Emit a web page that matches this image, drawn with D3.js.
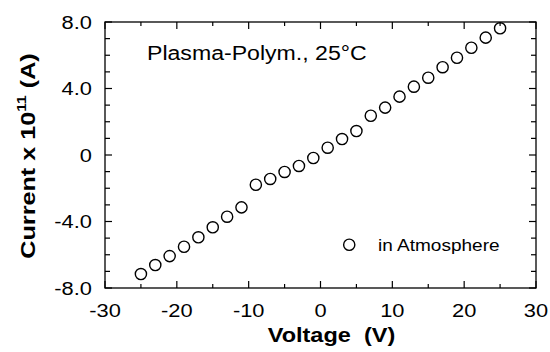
<!DOCTYPE html>
<html>
<head>
<meta charset="utf-8">
<script src="https://cdn.jsdelivr.net/npm/d3@7"></script>
<style>
  body { margin: 0; background: #fff; }
  svg { font-family: "Liberation Sans", Arial, sans-serif; }
  text { white-space: pre; }
</style>
</head>
<body>
<svg width="550" height="352"></svg>
<script>
// Voltage steps (V) and measured current (x 1e-11 A)
const voltage = [-25, -23, -21, -19, -17, -15, -13, -11, -9, -7, -5, -3, -1,
                 1, 3, 5, 7, 9, 11, 13, 15, 17, 19, 21, 23, 25];
const current = [-7.16, -6.62, -6.08, -5.52, -4.95, -4.35, -3.71, -3.15, -1.79, -1.44, -1.02, -0.66, -0.18,
                 0.44, 0.96, 1.44, 2.36, 2.85, 3.51, 4.11, 4.65, 5.28, 5.85, 6.45, 7.06, 7.62];
const xTicks = [-30, -20, -10, 0, 10, 20, 30];
const yTicks = [-8, -4, 0, 4, 8];
const yTickLabels = ["-8.0", "-4.0", "0", "4.0", "8.0"];

const data = voltage.map((v, i) => ({v: v, c: current[i]}));

const margin = {top: 22, right: 14, bottom: 64, left: 105},
      width = 550 - margin.left - margin.right,
      height = 352 - margin.top - margin.bottom;

const svg = d3.select("svg")
  .append("g")
  .attr("transform", "translate(" + margin.left + "," + margin.top + ")");

const x = d3.scaleLinear().domain([-30, 30]).range([0, width]);
const y = d3.scaleLinear().domain([-8, 8]).range([height, 0]);

// the scanned lettering is a bit wider than Arial, so stretch it horizontally
const place = (px, py, s) => "translate(" + px + "," + py + ") scale(" + s + ",1)";

// frame
svg.append("rect")
  .attr("width", width).attr("height", height)
  .attr("fill", "none").attr("stroke", "#000").attr("stroke-width", 1.3);

const minorX = d3.range(-25, 30, 10);
const minorY = d3.range(-7, 8, 1).filter(d => d % 4 !== 0);

// inward ticks on all four sides
const tg = svg.append("g").attr("stroke", "#000").attr("stroke-width", 1.2);
tg.selectAll(null).data(xTicks).join("line")
  .attr("x1", d => x(d)).attr("x2", d => x(d)).attr("y1", height).attr("y2", height - 7);
tg.selectAll(null).data(minorX).join("line")
  .attr("x1", d => x(d)).attr("x2", d => x(d)).attr("y1", height).attr("y2", height - 4);
tg.selectAll(null).data(xTicks).join("line")
  .attr("x1", d => x(d)).attr("x2", d => x(d)).attr("y1", 0).attr("y2", 7);
tg.selectAll(null).data(minorX).join("line")
  .attr("x1", d => x(d)).attr("x2", d => x(d)).attr("y1", 0).attr("y2", 4);
tg.selectAll(null).data(yTicks).join("line")
  .attr("x1", 0).attr("x2", 7).attr("y1", d => y(d)).attr("y2", d => y(d));
tg.selectAll(null).data(minorY).join("line")
  .attr("x1", 0).attr("x2", 5).attr("y1", d => y(d)).attr("y2", d => y(d));
tg.selectAll(null).data(yTicks).join("line")
  .attr("x1", width).attr("x2", width - 7).attr("y1", d => y(d)).attr("y2", d => y(d));
tg.selectAll(null).data(minorY).join("line")
  .attr("x1", width).attr("x2", width - 5).attr("y1", d => y(d)).attr("y2", d => y(d));

// tick labels
svg.selectAll(".xl").data(xTicks).join("text")
  .attr("class", "xl")
  .attr("transform", d => place(x(d), height + 29, 1.15))
  .attr("text-anchor", "middle")
  .attr("font-size", 19)
  .text(d => d);

svg.selectAll(".yl").data(yTicks).join("text")
  .attr("class", "yl")
  .attr("transform", d => place(-13, y(d), 1.15))
  .attr("dy", "0.36em")
  .attr("text-anchor", "end")
  .attr("font-size", 19)
  .text((d, i) => yTickLabels[i]);

// axis titles
svg.append("text")
  .attr("transform", place(x(0) + 11, height + 54, 1.12))
  .attr("text-anchor", "middle")
  .attr("font-size", 21).attr("font-weight", "bold")
  .text("Voltage  (V)");

const yt = svg.append("text")
  .attr("transform", "translate(-70," + (height / 2 + 1) + ") rotate(-90) scale(1.2,1)")
  .attr("text-anchor", "middle")
  .attr("font-size", 21).attr("font-weight", "bold");
yt.append("tspan").text("Current x 10");
yt.append("tspan").attr("font-size", 13).attr("dy", -9).text("11");
yt.append("tspan").attr("dy", 9).text(" (A)");

// annotation
svg.append("text")
  .attr("transform", place(42, 38, 1.1))
  .attr("font-size", 21)
  .text("Plasma-Polym., 25°C");

// data points
svg.selectAll(".pt").data(data).join("circle")
  .attr("class", "pt")
  .attr("cx", d => x(d.v)).attr("cy", d => y(d.c))
  .attr("r", 5.6)
  .attr("fill", "none").attr("stroke", "#000").attr("stroke-width", 1.4);

// legend
svg.append("circle")
  .attr("cx", x(4)).attr("cy", y(-5.4))
  .attr("r", 5.6)
  .attr("fill", "none").attr("stroke", "#000").attr("stroke-width", 1.4);
svg.append("text")
  .attr("transform", place(x(8), y(-5.4), 1.12))
  .attr("dy", "0.36em")
  .attr("font-size", 17)
  .text("in Atmosphere");
</script>
</body>
</html>
